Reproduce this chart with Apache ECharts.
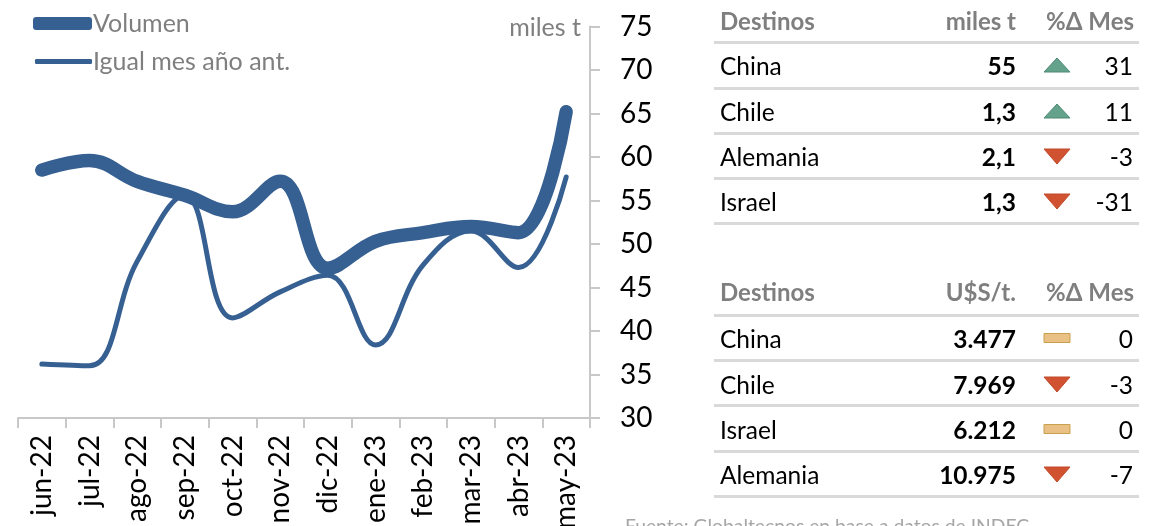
<!DOCTYPE html>
<html><head><meta charset="utf-8">
<style>html,body{margin:0;padding:0;background:#fff}#c{width:1156px;height:526px}</style>
<script src="https://cdn.jsdelivr.net/npm/echarts@6/dist/echarts.min.js"></script>
</head><body><div id="c"></div>
<script>
const categories=['jun-22','jul-22','ago-22','sep-22','oct-22','nov-22','dic-22','ene-23','feb-23','mar-23','abr-23','may-23'];
const volumen=[58.5,59.6,57.2,55.6,53.7,57.2,47.2,50.3,51.3,52,51.3,65.2];
const igualMes=[36.2,36,48,55.6,41.5,44.5,46.4,38.4,47.6,51.5,47.3,57.7];
const volumeHeaders=['Destinos','miles t','%Δ Mes'];
const volumeNames=['China','Chile','Alemania','Israel'];
const volumeValues=['55','1,3','2,1','1,3'];
const volumeDeltas=[31,11,-3,-31];
const priceHeaders=['Destinos','U$S/t.','%Δ Mes'];
const priceNames=['China','Chile','Israel','Alemania'];
const priceValues=['3.477','7.969','6.212','10.975'];
const priceDeltas=[0,-3,0,-7];
const sourceNote='Fuente: Globaltecnos en base a datos de INDEC';

const FONT='Lato';
const BLUE='#376092',GREY='#7f7f7f',RULE='#d9d9d9';
const g=[];
function txt(x,y,s,o){g.push({type:'text',x,y,silent:true,style:Object.assign({text:s,fontFamily:FONT,fontSize:24.5,fill:'#000',align:'left',verticalAlign:'middle'},o||{})});}
function glyph(cx,cy,d){
  if(d>0)g.push({type:'polygon',shape:{points:[[cx-13,cy+7],[cx+13,cy+7],[cx,cy-7]]},style:{fill:'#64a28c',stroke:'#4f8a75',lineWidth:1}});
  else if(d<0)g.push({type:'polygon',shape:{points:[[cx-13,cy-7],[cx+13,cy-7],[cx,cy+8]]},style:{fill:'#d15230',stroke:'#c24a2a',lineWidth:1}});
  else g.push({type:'rect',shape:{x:cx-13,y:cy-4.5,width:26,height:9},style:{fill:'#e9c184',stroke:'#c9a04e',lineWidth:1}});
}
function table(headers,names,values,deltas,headY,ruleYs,rowYs){
  const h={fill:GREY,fontWeight:'bold',fontSize:24};
  txt(720,headY+1,headers[0],h);
  txt(1016,headY+1,headers[1],Object.assign({align:'right'},h));
  txt(1134,headY+1,headers[2],Object.assign({align:'right'},h));
  ruleYs.forEach(y=>g.push({type:'line',shape:{x1:714,y1:y,x2:1139,y2:y},style:{stroke:RULE,lineWidth:3}}));
  names.forEach((n,i)=>{
    txt(720,rowYs[i]+2,n);
    txt(1016,rowYs[i]+2,values[i],{align:'right',fontWeight:'bold'});
    glyph(1057,rowYs[i],deltas[i]);
    txt(1133,rowYs[i]+2,String(deltas[i]),{align:'right'});
  });
}
table(volumeHeaders,volumeNames,volumeValues,volumeDeltas,21,[42.5,88.5,133.5,178.5,223.5],[65,111,156,201]);
table(priceHeaders,priceNames,priceValues,priceDeltas,292,[315.5,360.5,405.5,451.5,496.5],[338,384,429,474]);
txt(581,28,'miles t',{fill:GREY,align:'right',fontSize:25});
txt(625,527,sourceNote,{fill:'#a6a6a6',fontSize:19.3});

const chart=echarts.init(document.getElementById('c'));
chart.setOption({
  animation:false,
  textStyle:{fontFamily:FONT},
  legend:[
    {data:[{name:'Volumen',icon:'roundRect'}],left:33,top:11,itemWidth:59,itemHeight:13,itemGap:0,padding:0,selectedMode:false,textStyle:{color:GREY,fontSize:25,fontFamily:FONT,padding:[0,0,4,-4]}},
    {data:[{name:'Igual mes año ant.',icon:'roundRect'}],left:35,top:49,itemWidth:57,itemHeight:5,itemGap:0,padding:0,selectedMode:false,textStyle:{color:GREY,fontSize:25,fontFamily:FONT,padding:[0,0,0,-4]}}
  ],
  grid:{left:18,right:566,top:26.5,bottom:108,outerBoundsMode:'none'},
  xAxis:{type:'category',data:categories,boundaryGap:true,
    axisLine:{lineStyle:{color:'#c8c8c8',width:2}},
    axisTick:{show:true,length:10,lineStyle:{color:'#c8c8c8',width:2}},
    axisLabel:{rotate:90,color:'#000',fontSize:28,margin:17,fontFamily:FONT,interval:0,hideOverlap:false}},
  yAxis:{type:'value',position:'right',min:30,max:75,interval:5,
    splitLine:{show:false},
    axisLine:{show:true,lineStyle:{color:'#c8c8c8',width:2}},
    axisTick:{show:true,length:10,lineStyle:{color:'#c8c8c8',width:2}},
    axisLabel:{color:'#000',fontSize:28,margin:30,padding:[4,0,0,0],fontFamily:FONT,hideOverlap:false}},
  series:[
    {name:'Igual mes año ant.',type:'line',data:igualMes,smooth:0.4,showSymbol:false,z:2,
     lineStyle:{color:BLUE,width:5,cap:'round',join:'round'},itemStyle:{color:BLUE}},
    {name:'Volumen',type:'line',data:volumen,smooth:0.4,showSymbol:false,z:3,
     lineStyle:{color:BLUE,width:13.5,cap:'round',join:'round'},itemStyle:{color:BLUE}}
  ],
  graphic:g
});
</script></body></html>
